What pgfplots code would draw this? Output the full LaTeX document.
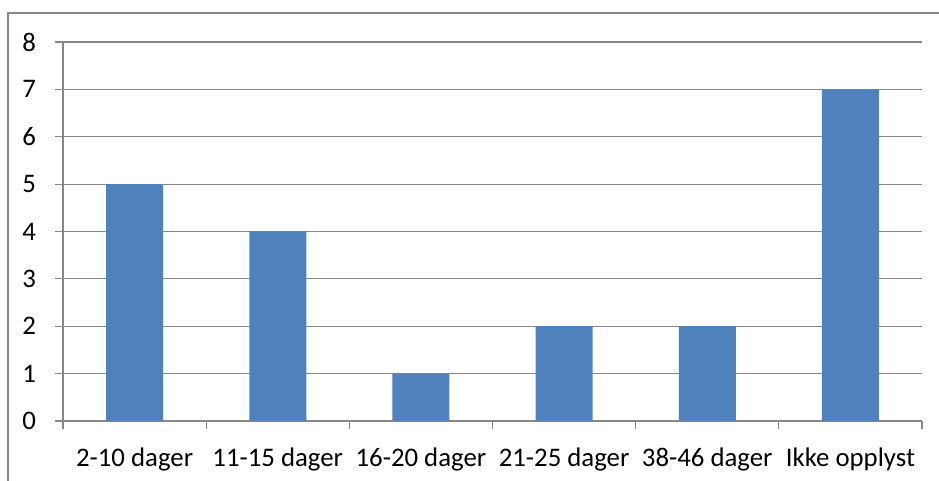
\documentclass[border=0pt]{standalone}
\usepackage{pgfplots}
\pgfplotsset{compat=1.18}
\usepackage{fontspec}
\setmainfont{Carlito}
\definecolor{barblue}{HTML}{4F81BD}
\definecolor{gridgray}{HTML}{878787}

\begin{document}
\begin{tikzpicture}
\begin{axis}[
  scale only axis,
  width=429.5pt, height=189.5pt,
  xmin=-0.5, xmax=5.5,
  ymin=0, ymax=8,
  ytick={0,...,8},
  xtick={0,...,5},
  xticklabels={2-10 dager,11-15 dager,16-20 dager,21-25 dager,38-46 dager,Ikke opplyst},
  minor xtick={-0.5,0.5,...,5.5},
  major x tick style={draw=none},
  axis x line*=bottom,
  axis y line*=left,
  axis line style={gridgray, line width=0.6pt},
  tick style={gridgray, line width=0.6pt},
  tick align=outside,
  major tick length=4pt,
  minor tick length=4pt,
  ymajorgrids,
  major grid style={gridgray, line width=0.6pt},
  /pgf/number format/assume math mode=true,
  tick label style={font=\fontsize{13.4}{15}\selectfont, black},
  xticklabel style={yshift=-6pt},
  yticklabel style={xshift=-6pt},
  ybar, bar width=28.5pt,
  clip=false,
]
\addplot[fill=barblue, draw=none] coordinates {
  (0,5) (1,4) (2,1) (3,2) (4,2) (5,7)
};
\coordinate (sw) at (rel axis cs:0,0);
\coordinate (ne) at (rel axis cs:1,1);
\end{axis}
\path[use as bounding box] ([xshift=-31.5pt,yshift=-30pt]sw) rectangle ([xshift=8.5pt,yshift=21pt]ne);
\draw[gridgray, line width=0.75pt] ([xshift=-27.5pt,yshift=-40pt]sw) -- ([xshift=-27.5pt,yshift=14.5pt]sw|-ne) -- ([xshift=20pt,yshift=14.5pt]ne);
\end{tikzpicture}
\end{document}
